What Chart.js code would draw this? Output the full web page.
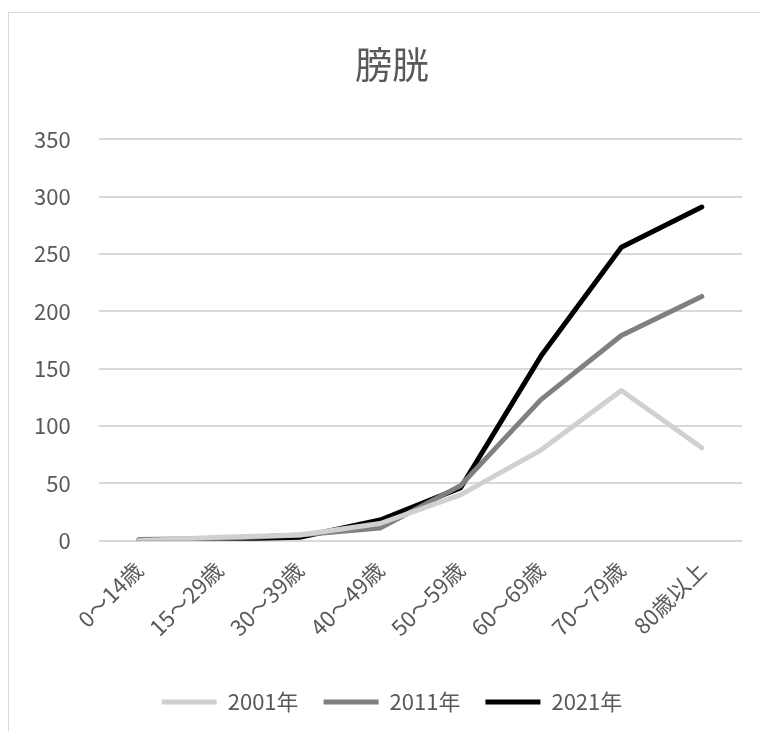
<!DOCTYPE html>
<html>
<head>
<meta charset="utf-8">
<script src="https://cdn.jsdelivr.net/npm/chart.js@4/dist/chart.umd.min.js"></script>
<style>
  body { margin: 0; background: #fff; overflow: hidden; }
  .frame { position: absolute; left: 8px; top: 12px; width: 800px; height: 800px; border: 1px solid #d9d9d9; }
  #chart { position: absolute; left: 0; top: 0; }
</style>
</head>
<body>
<div class="frame"></div>
<canvas id="chart" width="784" height="731"></canvas>
<script>
// 年齢階級
const ageGroups = ['0～14歳', '15～29歳', '30～39歳', '40～49歳', '50～59歳', '60～69歳', '70～79歳', '80歳以上']

const values2001 = [0, 3, 5, 15, 40, 79, 131, 81]
const values2011 = [1, 2, 5, 11, 48, 123, 179, 213]
const values2021 = [0, 1, 3, 18, 46, 161, 256, 291]

const seriesNames = ['2001年', '2011年', '2021年']
const seriesColors = ['#d0d0d0', '#808080', '#000000']

const yTicks = [0, 50, 100, 150, 200, 250, 300, 350]

const fontFamily = "'Noto Sans CJK JP', 'Noto Sans', sans-serif"
const textColor = '#595959'

const makeLine = (label, data, color) => ({
    label: label,
    data: data,
    borderColor: color,
    backgroundColor: color,
    borderWidth: 5,
    borderCapStyle: 'round',
    borderJoinStyle: 'round',
    pointRadius: 0,
    pointHoverRadius: 0,
    tension: 0,
    fill: false
})

new Chart(document.getElementById('chart'), {
    type: 'line',
    data: {
        labels: ageGroups,
        datasets: [
            makeLine(seriesNames[0], values2001, seriesColors[0]),
            makeLine(seriesNames[1], values2011, seriesColors[1]),
            makeLine(seriesNames[2], values2021, seriesColors[2])
        ]
    },
    options: {
        responsive: false,
        animation: false,
        layout: { padding: { left: 6, right: 6, top: 32, bottom: 8 } },
        plugins: {
            tooltip: { enabled: false },
            title: {
                display: true,
                text: '膀胱',
                color: textColor,
                font: { family: fontFamily, size: 37, weight: 'normal' },
                padding: { top: 11, bottom: 52 }
            },
            legend: {
                position: 'bottom',
                labels: {
                    color: textColor,
                    font: { family: fontFamily, size: 22 },
                    usePointStyle: true,
                    pointStyle: 'line',
                    pointStyleWidth: 55,
                    padding: 25
                }
            }
        },
        scales: {
            x: {
                offset: true,
                grid: { display: false },
                border: { display: false },
                afterFit: (axis) => {
                    axis.paddingLeft = 0
                    axis.paddingRight = 42
                    axis.height += 17
                },
                ticks: {
                    color: textColor,
                    font: { family: fontFamily, size: 22 },
                    maxRotation: 45,
                    minRotation: 45,
                    autoSkip: false,
                    padding: 8
                }
            },
            y: {
                min: yTicks[0],
                max: yTicks[yTicks.length - 1],
                afterBuildTicks: (axis) => { axis.ticks = yTicks.map(v => ({ value: v })) },
                grid: { color: '#d9d9d9', lineWidth: 2, drawTicks: false },
                border: { display: false },
                ticks: {
                    color: textColor,
                    font: { family: fontFamily, size: 22 },
                    padding: 28
                }
            }
        }
    }
})
</script>
</body>
</html>
